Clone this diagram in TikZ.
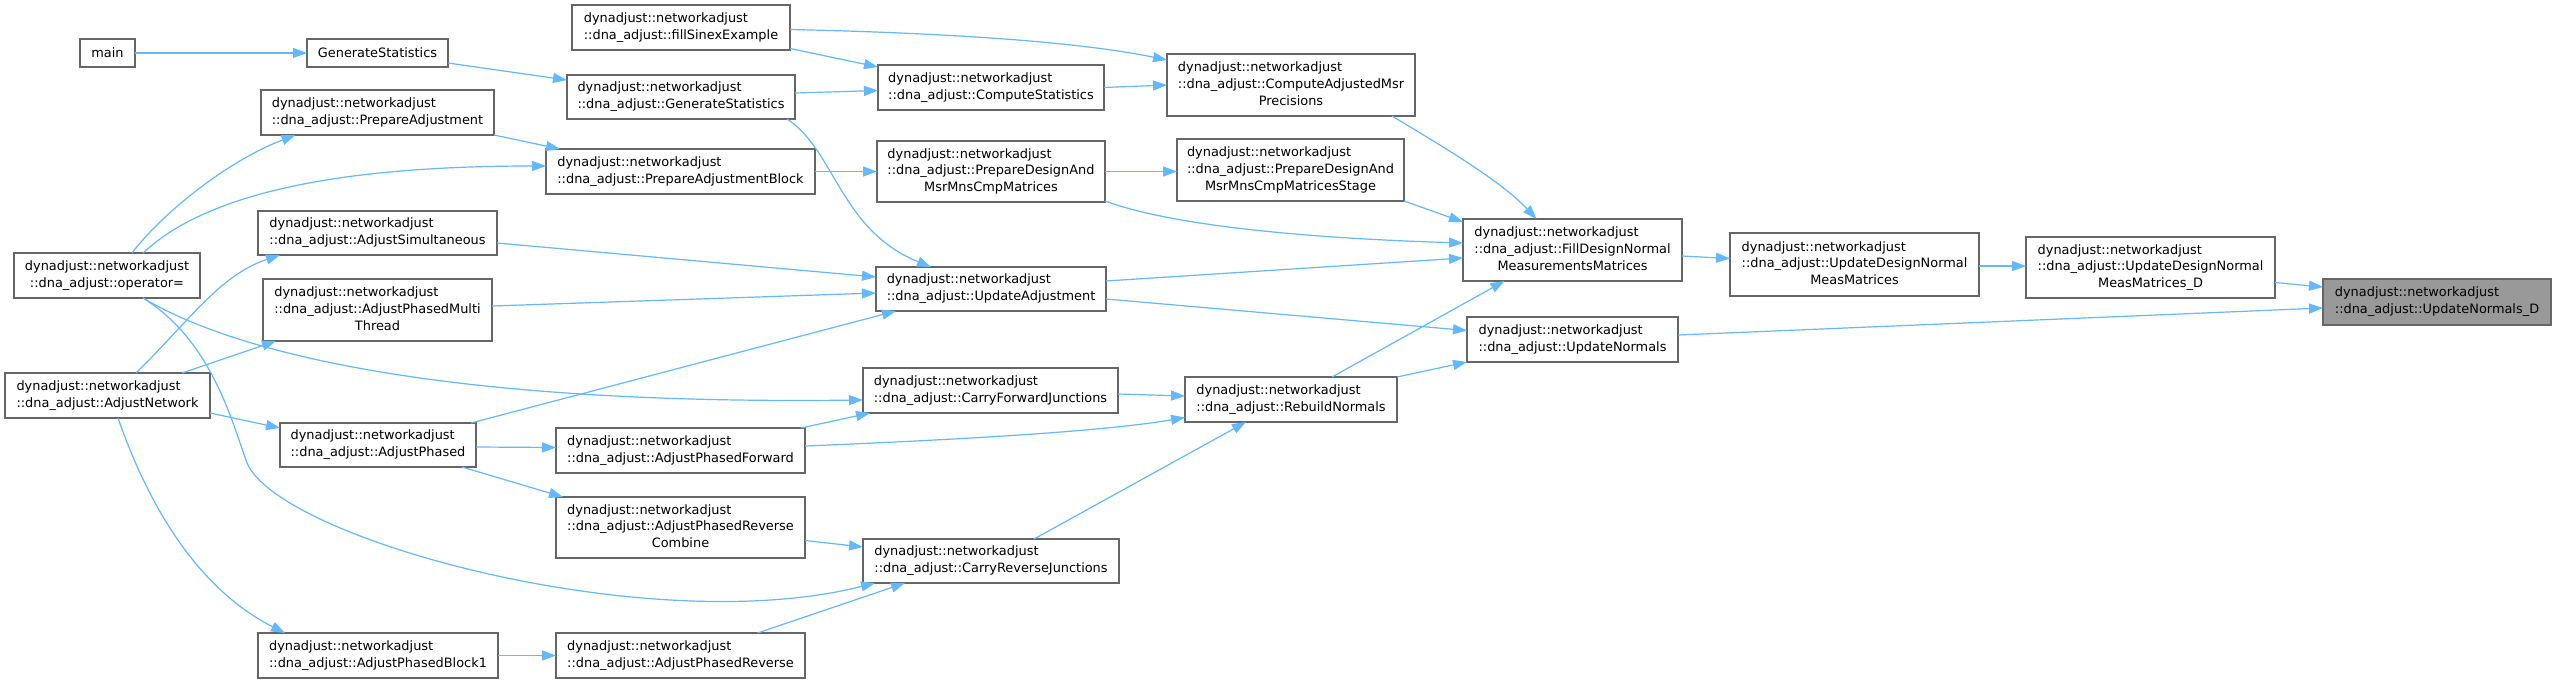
\documentclass[tikz,border=0pt]{standalone}
\usepackage{fontspec}
\setmainfont{DejaVu Sans}
\usetikzlibrary{arrows.meta}
\definecolor{edgec}{HTML}{63B8FF}
\definecolor{boxc}{HTML}{666666}
\definecolor{hic}{HTML}{999999}
\newcommand{\twol}[2]{\begin{tabular}{@{}l@{}}#1\\\multicolumn{1}{@{}c@{}}{#2}\end{tabular}}
\newcommand{\thrl}[3]{\begin{tabular}{@{}l@{}}#1\\#2\\\multicolumn{1}{@{}c@{}}{#3}\end{tabular}}
\newcommand{\dn}{dynadjust::networkadjust}
\begin{document}
\begin{tikzpicture}[x=1pt,y=-1pt,
  box/.style={draw=boxc, line width=1.1pt, fill=white, inner sep=0pt, outer sep=0pt,
    font=\fontsize{12.9}{16.7}\selectfont, text=black},
  hibox/.style={box, fill=hic},
  edge/.style={draw=edgec, line width=1.2pt, -{Triangle[length=14pt,width=10pt]}}]
\useasboundingbox[fill=white] (0,0) rectangle (2556,683);

% column 1
\node[box,minimum width=55pt,minimum height=28pt] (main) at (107.5,53) {main};
\node[box,minimum width=186pt,minimum height=45pt] (op) at (107,275.5) {\twol{\dn}{::dna\_adjust::operator=}};
\node[box,minimum width=205pt,minimum height=45pt] (an) at (107.5,395.5) {\twol{\dn}{::dna\_adjust::AdjustNetwork}};
% column 2
\node[box,minimum width=141pt,minimum height=28pt] (gen) at (377.5,53) {GenerateStatistics};
\node[box,minimum width=233pt,minimum height=45pt] (pa) at (377.5,112.5) {\twol{\dn}{::dna\_adjust::PrepareAdjustment}};
\node[box,minimum width=239pt,minimum height=44pt] (as) at (377.5,233) {\twol{\dn}{::dna\_adjust::AdjustSimultaneous}};
\node[box,minimum width=229pt,minimum height=62pt] (apmt) at (377.5,310) {\thrl{\dn}{::dna\_adjust::AdjustPhasedMulti}{Thread}};
\node[box,minimum width=196pt,minimum height=44pt] (ap) at (378,445) {\twol{\dn}{::dna\_adjust::AdjustPhased}};
\node[box,minimum width=240pt,minimum height=45pt] (apb1) at (378,655.5) {\twol{\dn}{::dna\_adjust::AdjustPhasedBlock1}};
% column 3
\node[box,minimum width=218pt,minimum height=45pt] (fse) at (681,27.5) {\twol{\dn}{::dna\_adjust::fillSinexExample}};
\node[box,minimum width=228pt,minimum height=44pt] (gs) at (681,97) {\twol{\dn}{::dna\_adjust::GenerateStatistics}};
\node[box,minimum width=269pt,minimum height=45pt] (pab) at (680.5,171.5) {\twol{\dn}{::dna\_adjust::PrepareAdjustmentBlock}};
\node[box,minimum width=249pt,minimum height=45pt] (apf) at (680.5,450.5) {\twol{\dn}{::dna\_adjust::AdjustPhasedForward}};
\node[box,minimum width=249pt,minimum height=61pt] (aprc) at (680.5,527.5) {\thrl{\dn}{::dna\_adjust::AdjustPhasedReverse}{Combine}};
\node[box,minimum width=249pt,minimum height=45pt] (apr) at (680.5,655.5) {\twol{\dn}{::dna\_adjust::AdjustPhasedReverse}};
% column 4
\node[box,minimum width=226pt,minimum height=45pt] (cs) at (991,87.5) {\twol{\dn}{::dna\_adjust::ComputeStatistics}};
\node[box,minimum width=228pt,minimum height=61pt] (pdm) at (991,171.5) {\thrl{\dn}{::dna\_adjust::PrepareDesignAnd}{MsrMnsCmpMatrices}};
\node[box,minimum width=230pt,minimum height=44pt] (ua) at (991,289) {\twol{\dn}{::dna\_adjust::UpdateAdjustment}};
\node[box,minimum width=255pt,minimum height=45pt] (cfj) at (990.5,390.5) {\twol{\dn}{::dna\_adjust::CarryForwardJunctions}};
\node[box,minimum width=256pt,minimum height=44pt] (crj) at (991,561) {\twol{\dn}{::dna\_adjust::CarryReverseJunctions}};
% column 5
\node[box,minimum width=248pt,minimum height=62pt] (camp) at (1291,85) {\thrl{\dn}{::dna\_adjust::ComputeAdjustedMsr}{Precisions}};
\node[box,minimum width=227pt,minimum height=62pt] (pdms) at (1290.5,170) {\thrl{\dn}{::dna\_adjust::PrepareDesignAnd}{MsrMnsCmpMatricesStage}};
\node[box,minimum width=212pt,minimum height=45pt] (rn) at (1291,399.5) {\twol{\dn}{::dna\_adjust::RebuildNormals}};
% column 6
\node[box,minimum width=219pt,minimum height=62pt] (fd) at (1572.5,250) {\thrl{\dn}{::dna\_adjust::FillDesignNormal}{MeasurementsMatrices}};
\node[box,minimum width=211pt,minimum height=45pt] (un) at (1572.5,339.5) {\twol{\dn}{::dna\_adjust::UpdateNormals}};
% columns 7-9
\node[box,minimum width=249pt,minimum height=63pt] (ud) at (1854.5,264.5) {\thrl{\dn}{::dna\_adjust::UpdateDesignNormal}{MeasMatrices}};
\node[box,minimum width=249pt,minimum height=61pt] (udd) at (2150.5,267.5) {\thrl{\dn}{::dna\_adjust::UpdateDesignNormal}{MeasMatrices\_D}};
\node[hibox,minimum width=228pt,minimum height=46pt] (und) at (2437,302) {\twol{\dn}{::dna\_adjust::UpdateNormals\_D}};

% edges
\draw[edge] (main.east) -- (gen.west);
\draw[edge] ([shift={(0,10)}]gen.east) -- ([shift={(0,-17)}]gs.west);
\draw[edge] ([shift={(0,21)}]fse.east) -- ([shift={(0,2)}]cs.north west);
\draw[edge] ([shift={(0,2)}]fse.east) .. controls (950,33) and (1080,42) .. ([shift={(0,-25)}]camp.west);
\draw[edge] ([shift={(0,-4)}]gs.east) -- ([shift={(0,3)}]cs.west);
\draw[edge] ([shift={(106,0)}]gs.south) .. controls (835,150) and (840,230) .. ([shift={(-60,0)}]ua.north);
\draw[edge] (cs.east) -- (camp.west);
\draw[edge] ([shift={(101,0)}]camp.south) .. controls (1440,145) and (1500,180) .. ([shift={(-36,0)}]fd.north);
\draw[edge] (pa.south east) -- ([shift={(14,0)}]pab.north west);
\draw[edge] ([shift={(25,0)}]op.north) .. controls (165,210) and (230,160) .. ([shift={(-82,0)}]pa.south);
\draw[edge] ([shift={(36,0)}]op.north) .. controls (210,190) and (350,166) .. ([shift={(0,-5.5)}]pab.west);
\draw[edge] (pab.east) -- (pdm.west);
\draw[edge] (pdm.east) -- (pdms.west |- pdm.east);
\draw[edge] ([shift={(0,29.5)}]pdm.east) .. controls (1170,225) and (1300,238) .. ([shift={(0,-7)}]fd.west);
\draw[edge] (pdms.south east) -- ([shift={(0,3)}]fd.north west);
\draw[edge] ([shift={(0,10)}]as.east) -- ([shift={(0,-12)}]ua.west);
\draw[edge] ([shift={(0,-4)}]apmt.east) -- ([shift={(0,4)}]ua.west);
\draw[edge] ([shift={(-5,0)}]ap.north east) -- ([shift={(20,0)}]ua.south west);
\draw[edge] ([shift={(0,-8)}]ua.east) -- ([shift={(0,8)}]fd.west);
\draw[edge] ([shift={(0,10)}]ua.east) -- ([shift={(0,-9)}]un.west);
\draw[edge] ([shift={(0,6)}]fd.east) -- ([shift={(0,-6)}]ud.west);
\draw[edge] ([shift={(0,1.5)}]ud.east) -- ([shift={(0,-1.5)}]udd.west);
\draw[edge] ([shift={(0,15)}]udd.east) -- ([shift={(0,-15)}]und.west);
\draw[edge] ([shift={(0,-4.5)}]un.east) -- ([shift={(0,6)}]und.west);
\draw[edge] ([shift={(41,0)}]rn.north) -- ([shift={(-68,0)}]fd.south);
\draw[edge] (rn.north east) -- (un.south west);
\draw[edge] ([shift={(0,3.5)}]cfj.east) -- ([shift={(0,-3.5)}]rn.west);
\draw[edge] ([shift={(0,-4.5)}]apf.east) .. controls (950,440) and (1100,432) .. ([shift={(0,18)}]rn.west);
\draw[edge] ([shift={(43,0)}]crj.north) -- ([shift={(-45,0)}]rn.south);
\draw[edge] ([shift={(36,0)}]op.south) .. controls (230,350) and (430,405) .. ([shift={(0,9.5)}]cfj.west);
\draw[edge] ([shift={(-4,0)}]apf.north east) -- ([shift={(7,0)}]cfj.south west);
\draw[edge] ([shift={(0,2)}]ap.east) -- ([shift={(0,-3)}]apf.west);
\draw[edge] ([shift={(-14,0)}]ap.south east) -- ([shift={(7,0)}]aprc.north west);
\draw[edge] ([shift={(0,17.5)}]an.east) -- ([shift={(0,-17)}]ap.west);
\draw[edge] ([shift={(10.5,0)}]an.south) .. controls (150,510) and (200,590) .. ([shift={(-93,0)}]apb1.north);
\draw[edge] ([shift={(28.5,0)}]an.north) .. controls (190,320) and (220,275) .. ([shift={(22,0)}]as.south west);
\draw[edge] ([shift={(74.5,0)}]an.north) -- ([shift={(13,0)}]apmt.south west);
\draw[edge] ([shift={(36,0)}]op.south) .. controls (210,340) and (230,415) .. (247,463) .. controls (280,540) and (650,640) .. ([shift={(12,0)}]crj.south west);
\draw[edge] ([shift={(0,13)}]aprc.east) -- ([shift={(0,-14)}]crj.west);
\draw[edge] ([shift={(77,0)}]apr.north) -- ([shift={(-86,0)}]crj.south);
\draw[edge] (apb1.east) -- (apr.west);
\end{tikzpicture}
\end{document}
